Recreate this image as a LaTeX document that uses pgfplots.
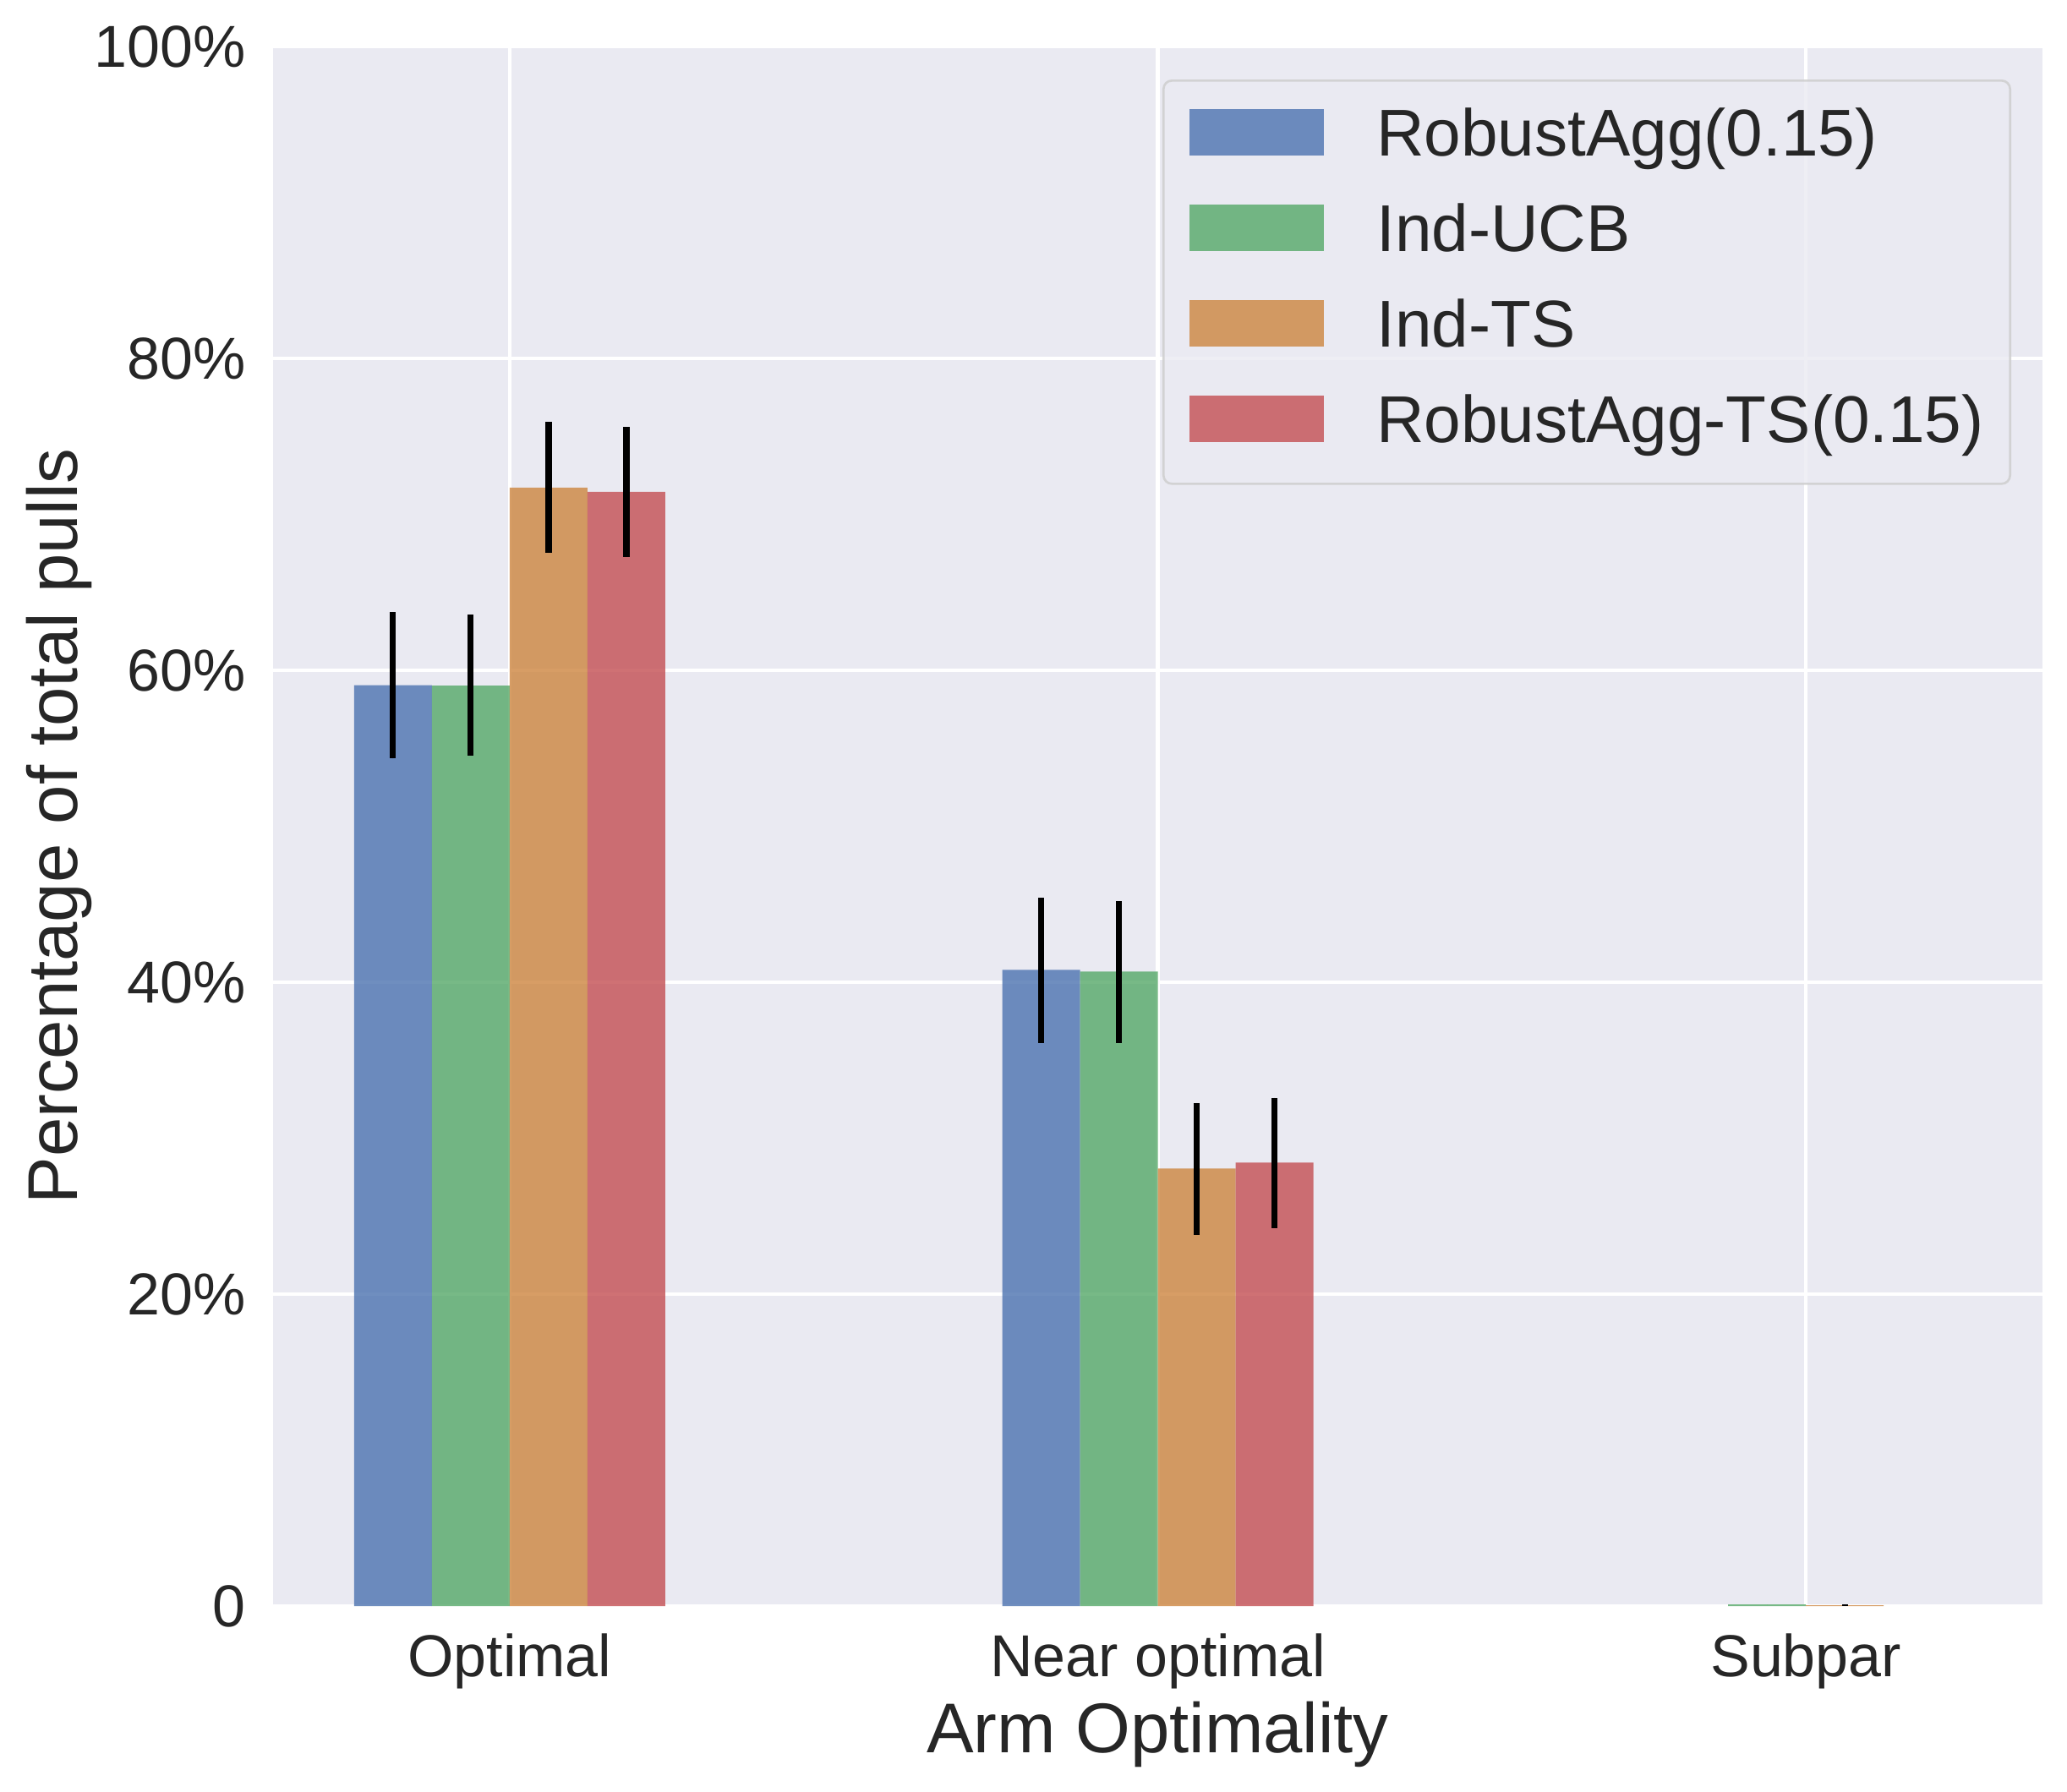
\documentclass[border=0pt]{standalone}
\usepackage{fontspec}
\setmainfont{Liberation Sans}
\usepackage{pgfplots}
\pgfplotsset{compat=1.18}
\definecolor{bgc}{HTML}{EAEAF2}
\definecolor{cblue}{HTML}{4C72B0}
\definecolor{cgreen}{HTML}{55A868}
\definecolor{corange}{HTML}{CD853F}
\definecolor{cred}{HTML}{C44E52}
\definecolor{txt}{HTML}{262626}
\definecolor{legedge}{HTML}{CCCCCC}
\pgfplotsset{myerr/.style={error bars/.cd, y dir=both, y explicit,
  error bar style={line width=2.2pt, black, draw opacity=1}, error mark=none}}
\begin{document}
\begin{tikzpicture}
\path[use as bounding box] (-96.9pt,-65.7pt) rectangle (636.6pt,570pt);
\begin{axis}[
  at={(0pt,0pt)}, anchor=south west,
  scale only axis,
  width=627.9pt, height=553.5pt,
  xmin=-0.365, xmax=2.365,
  ymin=0, ymax=100,
  xtick={0,1,2},
  xticklabels={Optimal,Near optimal,Subpar},
  ytick={0,20,40,60,80,100},
  yticklabels={0,20\%,40\%,60\%,80\%,100\%},
  major tick length=0pt,
  axis line style={draw=none},
  axis background/.style={fill=bgc},
  grid=major,
  major grid style={white, line width=1.3pt},
  ybar, bar width=0.12,
  every x tick label/.append style={font=\fontsize{21}{25}\selectfont, text=txt, inner sep=0pt, yshift=-9.5pt},
  every y tick label/.append style={font=\fontsize{21}{25}\selectfont, text=txt, inner sep=0pt, xshift=-9.6pt},
  xlabel={Arm Optimality},
  ylabel={Percentage of total pulls},
  xlabel style={font=\fontsize{25}{30}\selectfont, text=txt, at={(rel axis cs:0.5,0)}, anchor=north, inner sep=0pt, yshift=-33.6pt},
  ylabel style={font=\fontsize{25}{30}\selectfont, text=txt, at={(rel axis cs:0,0.5)}, anchor=north, inner sep=0pt, yshift=87.9pt},
  legend cell align=left,
  legend image code/.code={\fill[#1, sharp corners] (0pt,-6pt) rectangle (47.7pt,10.5pt);},
  legend style={
    at={(1,1)}, anchor=north east, xshift=-11.1pt, yshift=-11.7pt,
    fill=bgc, fill opacity=0.8, draw=legedge, draw opacity=0.8, text opacity=1,
    line width=0.8pt, rounded corners=3pt,
    inner xsep=9.3pt, inner ysep=10.2pt,
    row sep=12.9pt, column sep=18.6pt,
    font=\fontsize{23.5}{28}\selectfont, text=txt,
    nodes={inner sep=0pt, text height=16.5pt, text depth=4.5pt},
  },
]
\addplot[fill=cblue, fill opacity=0.8, draw=none, bar shift=-0.18, myerr] coordinates {
  (0,59.04) += (0,4.70) -= (0,4.69)
  (1,40.80) += (0,4.63) -= (0,4.69)
};
\addlegendentry{RobustAgg(0.15)}
\addplot[fill=cgreen, fill opacity=0.8, draw=none, bar shift=-0.06, myerr] coordinates {
  (0,59.02) += (0,4.54) -= (0,4.49)
  (1,40.68) += (0,4.52) -= (0,4.57)
  (2,0.10) += (0,0) -= (0,0)
};
\addlegendentry{Ind-UCB}
\addplot[fill=corange, fill opacity=0.8, draw=none, bar shift=0.06, myerr] coordinates {
  (0,71.72) += (0,4.21) -= (0,4.19)
  (1,28.06) += (0,4.20) -= (0,4.26)
  (2,0.05) += (0,0.05) -= (0,0.05)
};
\addlegendentry{Ind-TS}
\addplot[fill=cred, fill opacity=0.8, draw=none, bar shift=0.18, myerr] coordinates {
  (0,71.45) += (0,4.15) -= (0,4.19)
  (1,28.44) += (0,4.16) -= (0,4.21)
};
\addlegendentry{RobustAgg-TS(0.15)}
\end{axis}
\end{tikzpicture}
\end{document}
